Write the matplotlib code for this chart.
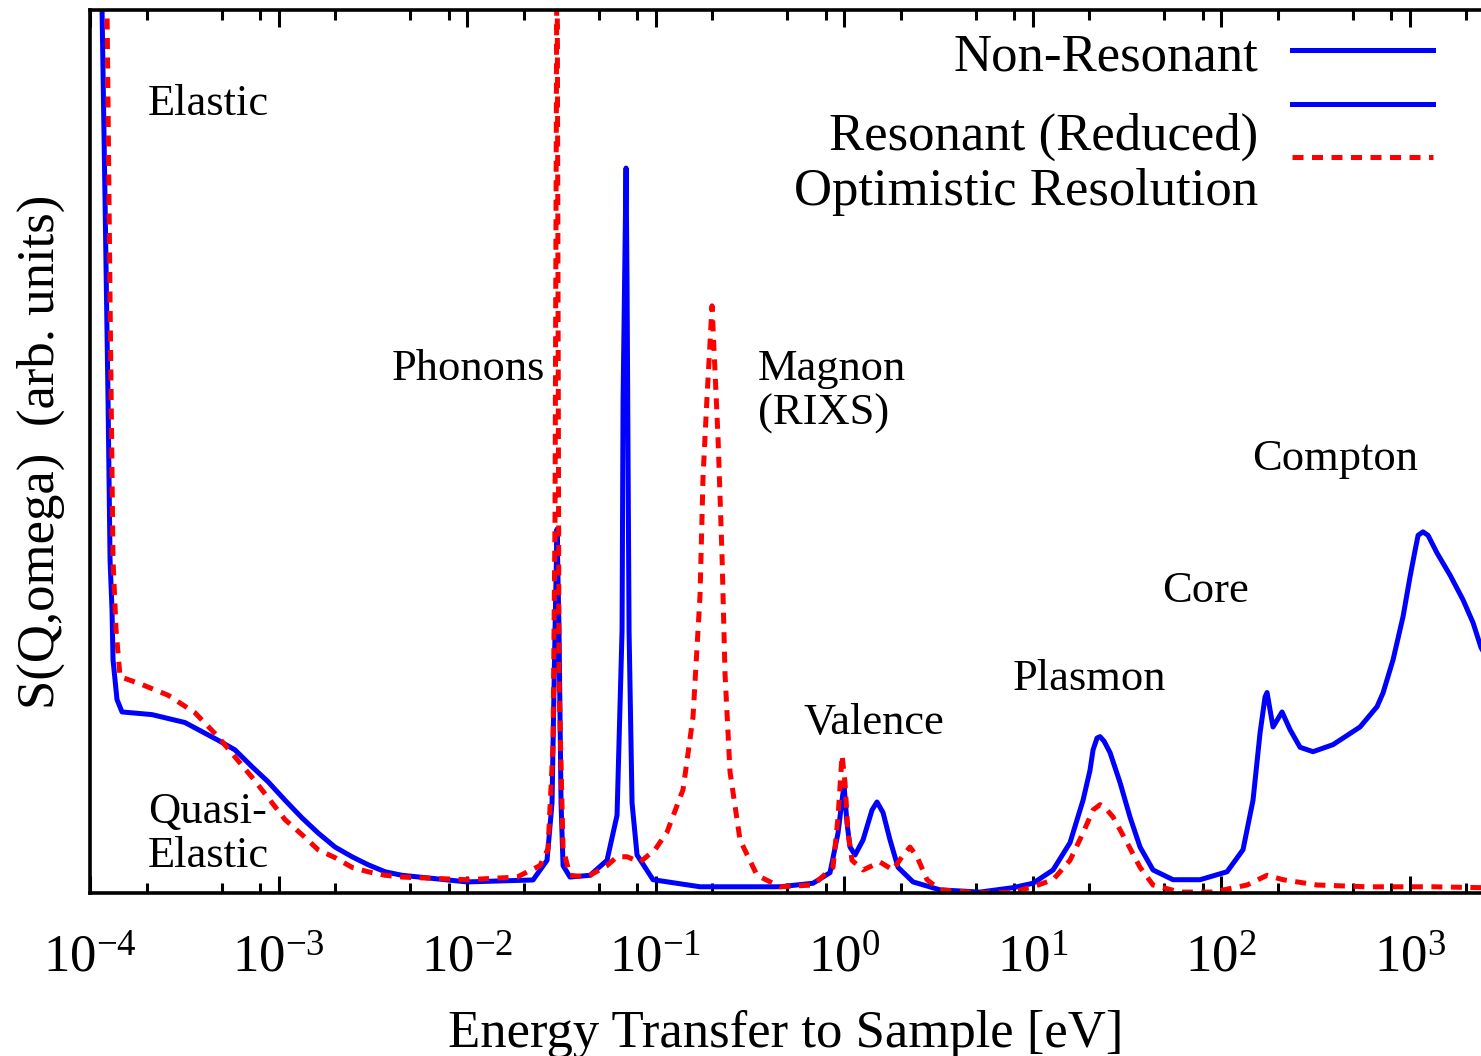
import numpy as np
import matplotlib
matplotlib.use("Agg")
import matplotlib.pyplot as plt
from matplotlib.ticker import FixedLocator, FuncFormatter, NullFormatter
from matplotlib.lines import Line2D

plt.rcParams['font.family'] = ['Liberation Serif', 'DejaVu Serif']
plt.rcParams['mathtext.fontset'] = 'custom'
plt.rcParams['mathtext.rm'] = 'Liberation Serif'

# energy transfer [eV] and S(Q,omega) [arb. units]
nonres_E = [1.144e-4, 1.158e-4, 1.201e-4, 1.246e-4, 1.277e-4, 1.308e-4, 1.324e-4, 1.390e-4,
            1.478e-4, 2.132e-4, 3.19e-4, 4.775e-4, 5.875e-4, 7.233e-4, 8.795e-4, 1.083e-3,
            1.332e-3, 1.62e-3, 1.994e-3, 2.454e-3, 2.984e-3, 3.673e-3, 4.52e-3, 0.01,
            0.02239, 0.02657, 0.02824, 0.02929, 0.03002, 0.03076, 0.03153, 0.03231, 0.03518,
            0.04493, 0.05529, 0.06248, 0.06643, 0.06725, 0.06976, 0.07062, 0.07236, 0.07505,
            0.07978, 0.09698, 0.1722, 0.4575, 0.6846, 0.8427, 0.9293, 0.9759, 1.0, 1.037,
            1.076, 1.144, 1.261, 1.408, 1.496, 1.610, 1.754, 1.934, 2.323, 3.231, 5.266,
            7.881, 10.06, 12.85, 15.81, 18.53, 20.18, 20.94, 21.99, 22.81, 23.95, 25.77,
            29.12, 32.89, 37.18, 43.58, 55.65, 77.38, 107.6, 130.8, 147.8, 161.0, 171.2,
            175.4, 188.7, 210.7, 232.3, 262.5, 307.6, 392.9, 546.3, 672.3, 723.4, 817.5,
            923.8, 1006, 1070, 1110, 1179, 1254, 1399, 1640, 1922, 2173, 2394, 2842]
nonres_S = [150, 100, 78.5, 55.8, 37.7, 32.0, 26.4, 21.9,
            20.5, 20.2, 19.3, 17.3, 16.2, 14.3, 12.6, 10.5,
            8.5, 6.8, 5.2, 4.1, 3.2, 2.4, 2.0, 1.25,
            1.47, 3.7, 10.2, 29.7, 41.2, 29.7, 10.2, 3.1, 1.8,
            2.0, 3.7, 8.8, 29.7, 55.8, 82.1, 68.7, 29.7, 10.2,
            4.3, 1.5, 0.7, 0.7, 1.1, 2.3, 6.8, 10.5, 12.2, 7.9,
            5.2, 4.3, 6.0, 9.4, 10.3, 9.1, 6.0, 2.9, 1.25, 0.35, 0.1,
            0.6, 1.1, 2.6, 5.7, 10.5, 13.9, 16.2, 17.55, 17.7, 17.2, 15.9,
            12.5, 8.6, 5.2, 2.6, 1.5, 1.5, 2.4, 4.9, 10.5, 18.1, 22.2,
            22.7, 18.8, 20.5, 18.5, 16.5, 16.0, 16.8, 18.8, 21.1, 22.65, 26.4,
            31.3, 35.8, 38.8, 40.5, 40.9, 40.5, 38.5, 36.0, 33.2, 30.6, 27.8, 25.0]

optim_E = [1.18e-4, 1.231e-4, 1.277e-4, 1.324e-4, 1.374e-4, 1.443e-4, 1.887e-4, 2.593e-4,
           3.606e-4, 4.775e-4, 5.875e-4, 7.233e-4, 8.795e-4, 1.083e-3, 1.332e-3, 1.62e-3,
           1.994e-3, 2.454e-3, 2.984e-3, 3.673e-3, 4.52e-3, 0.01, 0.01842, 0.02439, 0.0269,
           0.02859, 0.02929, 0.03002, 0.03076, 0.03231, 0.03518, 0.0433, 0.05529, 0.06248,
           0.07062, 0.08276, 0.09938, 0.1151, 0.1399, 0.158, 0.1722, 0.1786, 0.1875, 0.1994,
           0.2146, 0.2253, 0.2337, 0.2484, 0.2807, 0.3455, 0.4575, 0.6846, 0.874, 0.9293,
           0.9759, 1.012, 1.050, 1.102, 1.261, 1.552, 1.819, 2.031, 2.239, 2.439, 2.756,
           3.231, 5.266, 7.881, 10.06, 12.85, 15.81, 18.53, 20.94, 22.81, 24.85, 26.74,
           31.72, 37.18, 43.58, 60.6, 90.7, 137.4, 175.4, 213.3, 323.1, 595.1, 1332, 2394,
           2842]
optim_S = [150, 100, 67.2, 37.7, 29.8, 24.5, 23.6, 22.4,
           20.4, 17.7, 15.4, 13.1, 10.8, 8.3, 6.6, 4.9,
           4.0, 2.9, 2.4, 2.0, 1.8, 1.5, 1.8, 3.1, 5.0,
           16.8, 42.6, 112, 24.1, 5.0, 2.0, 1.8, 3.1, 4.1,
           4.1, 3.5, 4.9, 6.9, 11.7, 19.9, 33.7, 47.1, 56.1, 66.5,
           51.5, 38.2, 24.8, 13.7, 6.0, 2.0, 0.7, 0.9, 2.9, 8.6,
           15.6, 12.5, 6.8, 3.7, 2.6, 3.5, 2.6, 4.1, 5.2, 4.1, 1.5,
           0.35, 0.0, 0.1, 0.7, 1.5, 3.7, 6.8, 9.4, 10.0, 9.4, 8.6,
           5.7, 2.9, 0.9, 0.1, 0.1, 0.9, 2.0, 1.5, 0.9, 0.7, 0.7, 0.6,
           0.6]

decades = [1e-4, 1e-3, 1e-2, 1e-1, 1e0, 1e1, 1e2, 1e3]
minor_steps = [2, 5, 8]

labels = [("Elastic", 0.0417, 0.881), ("Phonons", 0.2171, 0.581),
          ("Magnon", 0.4802, 0.581), ("(RIXS)", 0.4802, 0.531),
          ("Compton", 0.8354, 0.479), ("Core", 0.7707, 0.3296),
          ("Plasmon", 0.6636, 0.2299), ("Valence", 0.5126, 0.1801),
          ("Quasi-", 0.0417, 0.0793), ("Elastic", 0.0417, 0.0294)]

fig = plt.figure(figsize=(14.81, 10.56), dpi=100)
ax = fig.add_axes([0.0608, 0.1544, 0.9392, 0.8361])

ax.plot(nonres_E, nonres_S, color='#0000ff', lw=3.6, solid_joinstyle='round')
ax.plot(optim_E, optim_S, color='#ff0000', lw=3.6, dashes=(2.2, 1.7))

ax.set_xscale('log')
ax.set_xlim(1e-4, 2394)
ax.set_ylim(0, 100)

ax.xaxis.set_major_locator(FixedLocator(decades))
ax.xaxis.set_minor_locator(FixedLocator([d * m for d in decades for m in minor_steps]))
ax.xaxis.set_major_formatter(FuncFormatter(lambda v, p: r'$\mathregular{10^{%d}}$' % round(np.log10(v))))
ax.xaxis.set_minor_formatter(NullFormatter())
ax.tick_params(axis='x', which='both', direction='in', top=True, bottom=True,
               labelsize=38, pad=30, width=2.2)
ax.tick_params(axis='x', which='major', length=12)
ax.tick_params(axis='x', which='minor', length=7)
ax.set_yticks([])

for side in ['left', 'top', 'bottom']:
    ax.spines[side].set_linewidth(2.6)
ax.spines['right'].set_visible(False)

ax.set_xlabel('Energy Transfer to Sample [eV]', fontsize=38, labelpad=20)
ax.set_ylabel('S(Q,omega)  (arb. units)', fontsize=38, labelpad=18)

for txt, x, y in labels:
    ax.text(x, y, txt, transform=ax.transAxes, fontsize=32, ha='left', va='baseline')

# gnuplot-style key in the upper right
key_x0, key_x1, key_tx = 0.864, 0.9655, 0.8397
ax.add_line(Line2D([key_x0, key_x1], [0.9547, 0.9547], transform=ax.transAxes,
                   color='#0000ff', lw=3.6))
ax.add_line(Line2D([key_x0, key_x1], [0.8935, 0.8935], transform=ax.transAxes,
                   color='#0000ff', lw=3.6))
ax.add_line(Line2D([key_x0, key_x1], [0.8335, 0.8335], transform=ax.transAxes,
                   color='#ff0000', lw=3.6, dashes=(2.2, 1.7)))
ax.text(key_tx, 0.932, 'Non-Resonant', transform=ax.transAxes, fontsize=38,
        ha='right', va='baseline')
ax.text(key_tx, 0.8414, 'Resonant (Reduced)', transform=ax.transAxes, fontsize=38,
        ha='right', va='baseline')
ax.text(key_tx, 0.7792, 'Optimistic Resolution', transform=ax.transAxes, fontsize=38,
        ha='right', va='baseline')

fig.savefig('out.png', dpi=100)
